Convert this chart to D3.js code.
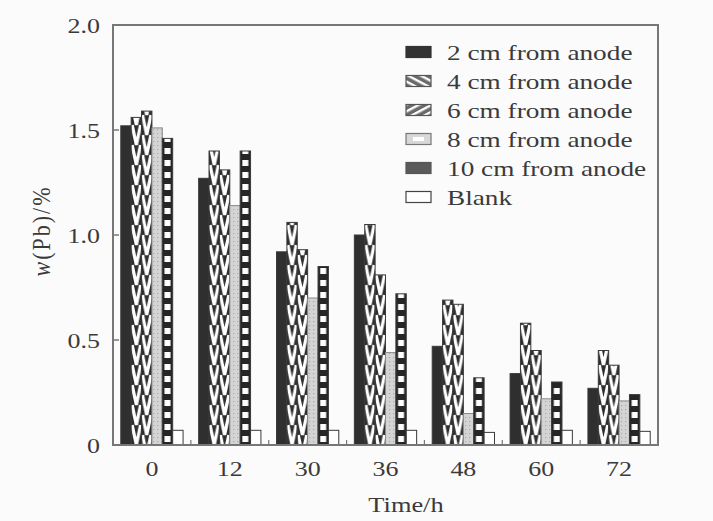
<!DOCTYPE html>
<html>
<head>
    <meta charset="utf-8">
    <script type="text/javascript" src="https://cdn.jsdelivr.net/npm/d3@7"></script>
    <style>
        body { margin: 0; background: #fbfbfb; }
        text { font-family: "Liberation Serif", "Times New Roman", serif; fill: #3a3a3a; }
    </style>
</head>
<body>
    <div id="chart"></div>
    <script type="text/javascript">

        // time points (h)
        let times = ["0", "12", "30", "36", "48", "60", "72"];
        let seriesNames = ["2 cm from anode", "4 cm from anode", "6 cm from anode",
            "8 cm from anode", "10 cm from anode", "Blank"];

        // w(Pb)/% per series, one value per time point
        let cm2 = [1.52, 1.27, 0.92, 1.00, 0.47, 0.34, 0.27];
        let cm4 = [1.56, 1.40, 1.06, 1.05, 0.69, 0.58, 0.45];
        let cm6 = [1.59, 1.31, 0.93, 0.81, 0.67, 0.45, 0.38];
        let cm8 = [1.51, 1.14, 0.70, 0.44, 0.15, 0.22, 0.21];
        let cm10 = [1.46, 1.40, 0.85, 0.72, 0.32, 0.30, 0.24];
        let blank = [0.07, 0.07, 0.07, 0.07, 0.06, 0.07, 0.065];

        let yTicks = [0, 0.5, 1.0, 1.5, 2.0];
        let yTickLabels = ["0", "0.5", "1.0", "1.5", "2.0"];

        let allSeries = [cm2, cm4, cm6, cm8, cm10, blank];
        let kinds = ["solid", "chevA", "chevB", "dots", "ladder", "blank"];

        let width = 713, height = 521;
        let plotLeft = 113, plotRight = 658, plotTop = 25, plotBottom = 445;

        let svg = d3.select("#chart")
            .append("svg")
            .attr("width", width)
            .attr("height", height);

        let defs = svg.append("defs");

        let x0 = d3.scaleBand()
            .domain(times)
            .range([plotLeft, plotRight])
            .paddingInner(0.2)
            .paddingOuter(0.1);

        let x1 = d3.scaleBand()
            .domain(d3.range(seriesNames.length))
            .range([0, x0.bandwidth()]);

        let y = d3.scaleLinear()
            .domain([0, 2.0])
            .range([plotBottom, plotTop]);

        // glyphs in the picture are a little wide, so text is stretched sideways
        const addText = (g, x, yy, str, anchor, size, sx) => {
            return g.append("text")
                .attr("transform", `translate(${x},${yy}) scale(${sx || 1.18},1)`)
                .attr("text-anchor", anchor)
                .style("font-size", size + "px")
                .text(str);
        };

        // light speckle for 8 cm
        let dots = defs.append("pattern")
            .attr("id", "dots")
            .attr("patternUnits", "userSpaceOnUse")
            .attr("width", 4).attr("height", 4);
        dots.append("rect").attr("width", 4).attr("height", 4).attr("fill", "#d4d4d4");
        dots.append("rect").attr("x", 1).attr("y", 1).attr("width", 1.2).attr("height", 1.2).attr("fill", "#ababab");

        // one pattern per bar so the motif lines up with the bar edges
        const makePattern = (kind, id, bx, bw) => {
            if (kind === "chevA" || kind === "chevB") {
                let p = 20;
                let pat = defs.append("pattern")
                    .attr("id", id)
                    .attr("patternUnits", "userSpaceOnUse")
                    .attr("x", bx).attr("y", plotBottom + (kind === "chevB" ? p / 2 : 0))
                    .attr("width", bw).attr("height", p);
                pat.append("rect").attr("width", bw).attr("height", p).attr("fill", "#2e2e2e");
                for (let k = -1; k <= 1; k++) {
                    pat.append("path")
                        .attr("d", `M 1 ${k * p} L ${bw / 2} ${k * p + p} L ${bw - 1} ${k * p}`)
                        .attr("fill", "none")
                        .attr("stroke", "#ffffff")
                        .attr("stroke-width", 3.2);
                }
            } else if (kind === "ladder") {
                let p = 12;
                let pat = defs.append("pattern")
                    .attr("id", id)
                    .attr("patternUnits", "userSpaceOnUse")
                    .attr("x", bx).attr("y", plotBottom)
                    .attr("width", bw).attr("height", p);
                pat.append("rect").attr("width", bw).attr("height", p).attr("fill", "#262626");
                pat.append("rect")
                    .attr("x", 2.2).attr("y", 3)
                    .attr("width", bw - 4.4).attr("height", 6)
                    .attr("fill", "#ffffff");
            }
        };

        const fillFor = (kind, id) => {
            if (kind === "solid") return "#2f2f2f";
            if (kind === "dots") return "url(#dots)";
            if (kind === "blank") return "#ffffff";
            return `url(#${id})`;
        };

        let barData = [];
        times.forEach((t, i) => {
            allSeries.forEach((s, j) => {
                let bx = x0(t) + x1(j);
                let id = `p${i}_${j}`;
                makePattern(kinds[j], id, bx, x1.bandwidth());
                barData.push({ x: bx, v: s[i], fill: fillFor(kinds[j], id), kind: kinds[j] });
            });
        });

        svg.append("g")
            .selectAll("rect")
            .data(barData)
            .enter()
            .append("rect")
            .attr("x", d => d.x)
            .attr("y", d => y(d.v))
            .attr("width", x1.bandwidth())
            .attr("height", d => y(0) - y(d.v))
            .attr("fill", d => d.fill)
            .attr("stroke", d => d.kind === "dots" ? "#8a8a8a" : "#3a3a3a")
            .attr("stroke-width", 1);

        // frame
        svg.append("rect")
            .attr("x", plotLeft).attr("y", plotTop)
            .attr("width", plotRight - plotLeft).attr("height", plotBottom - plotTop)
            .attr("fill", "none")
            .attr("stroke", "#777")
            .attr("stroke-width", 2);

        // y ticks (inward) and labels
        let yAxis = svg.append("g");
        yAxis.selectAll("line")
            .data(yTicks)
            .enter()
            .append("line")
            .attr("x1", plotLeft).attr("x2", plotLeft + 6)
            .attr("y1", d => y(d)).attr("y2", d => y(d))
            .attr("stroke", "#777").attr("stroke-width", 1.5);
        yTicks.forEach((t, i) => {
            addText(yAxis, 100, y(t) + 7.5, yTickLabels[i], "end", 22);
        });

        // x ticks between groups and labels
        let xAxis = svg.append("g");
        let step = x0.step();
        xAxis.selectAll("line")
            .data(times.slice(1))
            .enter()
            .append("line")
            .attr("x1", d => x0(d) - step * 0.1).attr("x2", d => x0(d) - step * 0.1)
            .attr("y1", plotBottom).attr("y2", plotBottom - 5)
            .attr("stroke", "#777").attr("stroke-width", 1.2);
        times.forEach(t => {
            addText(xAxis, x0(t) + x0.bandwidth() / 2, 476, t, "middle", 22);
        });

        // axis titles
        addText(svg, 406, 512, "Time/h", "middle", 22, 1.2);
        let yt = svg.append("text")
            .attr("transform", "translate(50,231) rotate(-90) scale(1,1.1)")
            .attr("text-anchor", "middle")
            .style("font-size", "22px")
            .style("letter-spacing", "2px");
        yt.append("tspan").style("font-style", "italic").text("w");
        yt.append("tspan").text("(Pb)/%");

        // legend
        let legend = svg.append("g");
        let legY = 52, legStep = 29, swW = 25, swH = 11, swX = 406;

        let lp = defs.append("pattern").attr("id", "legA")
            .attr("patternUnits", "userSpaceOnUse").attr("width", 6).attr("height", 6)
            .attr("patternTransform", "rotate(28)");
        lp.append("rect").attr("width", 6).attr("height", 6).attr("fill", "#6a6a6a");
        lp.append("rect").attr("width", 6).attr("height", 2.4).attr("fill", "#ffffff");
        let lq = defs.append("pattern").attr("id", "legB")
            .attr("patternUnits", "userSpaceOnUse").attr("width", 6).attr("height", 6)
            .attr("patternTransform", "rotate(-28)");
        lq.append("rect").attr("width", 6).attr("height", 6).attr("fill", "#6a6a6a");
        lq.append("rect").attr("width", 6).attr("height", 2.4).attr("fill", "#ffffff");

        let legFills = ["#333333", "url(#legA)", "url(#legB)", "#d8d8d8", "#5a5a5a", "#ffffff"];
        let legStroke = ["#333", "#555", "#555", "#777", "#555", "#444"];

        seriesNames.forEach((name, i) => {
            let cy = legY + i * legStep;
            legend.append("rect")
                .attr("x", swX).attr("y", cy - swH / 2)
                .attr("width", swW).attr("height", swH)
                .attr("fill", legFills[i])
                .attr("stroke", legStroke[i])
                .attr("stroke-width", 1.2);
            if (i === 3) {
                legend.append("rect")
                    .attr("x", swX + 7).attr("y", cy - 2)
                    .attr("width", swW - 14).attr("height", 4)
                    .attr("fill", "#ffffff");
            }
            addText(legend, 447, cy + 8, name, "start", 22, 1.24);
        });

    </script>
</body>
</html>
